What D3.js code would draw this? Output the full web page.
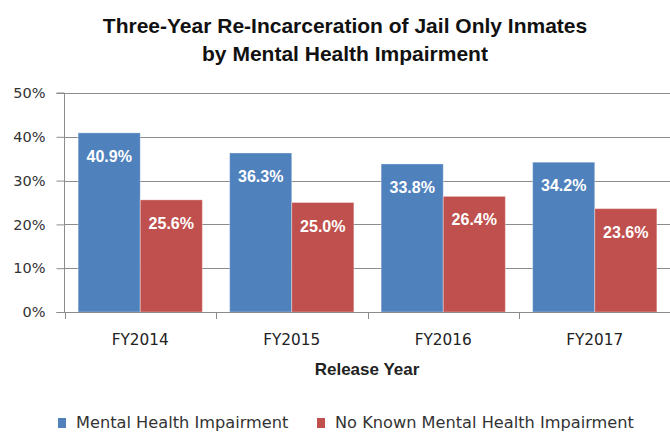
<!DOCTYPE html>
<html><head><meta charset="utf-8">
<script src="https://cdn.jsdelivr.net/npm/d3@7"></script>
<style>body{margin:0;background:#fff}svg{display:block}</style>
</head><body>
<svg id="c" width="670" height="432"></svg>
<script>
const categories = ["FY2014","FY2015","FY2016","FY2017"];
const seriesNames = ["Mental Health Impairment","No Known Mental Health Impairment"];
const mhi = [40.9, 36.3, 33.8, 34.2];
const noMhi = [25.6, 25.0, 26.4, 23.6];
const yTicks = [0,10,20,30,40,50];
const colors = ["#4F81BD","#C0504D"];

const svg = d3.select("#c");
const m = {left:64.5, right:670.5, top:93, bottom:312};
const x = d3.scaleBand().domain(categories).range([m.left, m.right]).paddingInner(0.18).paddingOuter(0.09);
const xb = d3.scaleBand().domain(categories).range([m.left, m.right]);
const x1 = d3.scaleBand().domain([0,1]).range([0, x.bandwidth()]);
const y = d3.scaleLinear().domain([0,50]).range([m.bottom, m.top]);

// gridlines
svg.append("g").selectAll("line").data(yTicks.slice(1)).join("line")
  .attr("x1", m.left).attr("x2", m.right)
  .attr("y1", d=>Math.round(y(d))+0.5).attr("y2", d=>Math.round(y(d))+0.5)
  .attr("stroke","#8c8c8c").attr("stroke-width",1);

// bars
const data = categories.map((c,i)=>({c, v:[mhi[i], noMhi[i]]}));
const g = svg.append("g").selectAll("g").data(data).join("g")
  .attr("transform", d=>`translate(${x(d.c)},0)`);
g.selectAll("rect").data(d=>d.v.map((v,k)=>({v,k}))).join("rect")
  .attr("x", d=>x1(d.k)).attr("width", x1.bandwidth())
  .attr("y", d=>y(d.v)).attr("height", d=>y(0)-y(d.v))
  .attr("fill", d=>colors[d.k]).attr("stroke","rgba(255,255,255,0.35)").attr("stroke-width",1);
g.selectAll("text").data(d=>d.v.map((v,k)=>({v,k}))).join("text")
  .attr("x", d=>x1(d.k)+x1.bandwidth()/2).attr("y", d=>y(d.v)+29)
  .attr("text-anchor","middle").attr("fill","#fff")
  .style("font-family","Liberation Sans, Arial, sans-serif").style("font-weight","bold").style("font-size","16px")
  .text(d=>d.v.toFixed(1)+"%");

// y axis
const ya = d3.axisLeft(y).tickValues(yTicks).tickFormat(d=>d+"%").tickSize(8).tickPadding(11);
const yg = svg.append("g").attr("transform",`translate(${m.left},0)`).call(ya);
yg.select(".domain").attr("stroke","#8c8c8c").attr("d",`M-8,${m.top}H0V${m.bottom}`);
yg.selectAll(".tick line").attr("stroke","#8c8c8c");
yg.selectAll(".tick text").attr("fill","#333").style("font-family","DejaVu Sans, sans-serif").style("font-size","14.5px");

// x axis
const xg = svg.append("g").attr("transform",`translate(0,${m.bottom})`);
xg.append("line").attr("x1",m.left-8).attr("x2",m.right).attr("y1",0.5).attr("y2",0.5).attr("stroke","#8c8c8c");
const bounds = categories.map(c=>xb(c)).concat([m.right]);
xg.selectAll("line.t").data(bounds).join("line").attr("class","t")
  .attr("x1",d=>Math.round(d)+0.5).attr("x2",d=>Math.round(d)+0.5).attr("y1",0).attr("y2",7).attr("stroke","#8c8c8c");
xg.selectAll("text").data(categories).join("text")
  .attr("x", d=>xb(d)+xb.bandwidth()/2).attr("y", 33)
  .attr("text-anchor","middle").attr("fill","#222")
  .style("font-family","DejaVu Sans, sans-serif").style("font-size","15.3px").text(d=>d);

svg.append("text").attr("x",367).attr("y",375).attr("text-anchor","middle").attr("fill","#222")
  .style("font-family","Liberation Sans, Arial, sans-serif").style("font-weight","bold").style("font-size","17px")
  .text("Release Year");

// title
const title = svg.append("text").attr("text-anchor","middle").attr("fill","#111")
  .style("font-family","Liberation Sans, Arial, sans-serif").style("font-weight","bold").style("font-size","21px");
title.append("tspan").attr("x",345).attr("y",33).text("Three-Year Re-Incarceration of Jail Only Inmates");
title.append("tspan").attr("x",345).attr("y",61).text("by Mental Health Impairment");

// legend
const lg = svg.append("g");
const lx = [58, 317];
seriesNames.forEach((n,i)=>{
  lg.append("rect").attr("x",lx[i]).attr("y",418).attr("width",8).attr("height",10).attr("fill",colors[i]);
  lg.append("text").attr("x",lx[i]+18).attr("y",428).attr("fill","#333")
    .style("font-family","DejaVu Sans, sans-serif").style("font-size","16.2px").text(n);
});
</script>
</body></html>
